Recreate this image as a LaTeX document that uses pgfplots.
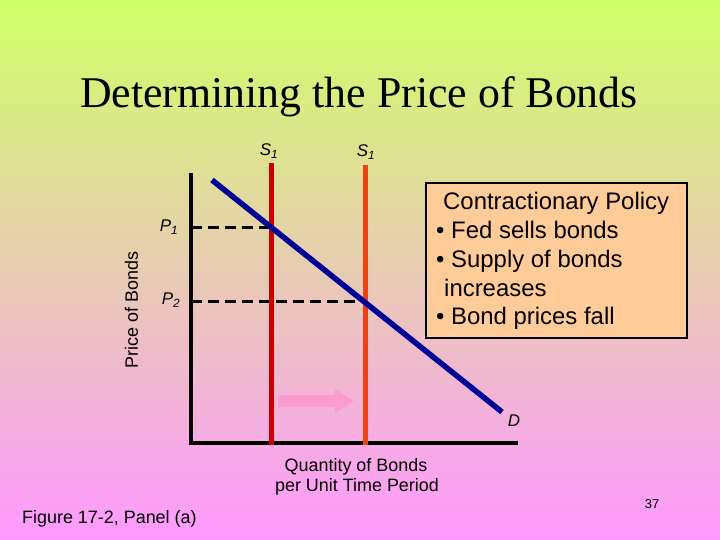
\documentclass[border=0pt]{standalone}
\usepackage{pgfplots}
\pgfplotsset{compat=1.18}
\usepackage{fontspec}
\setmainfont{Liberation Sans}
\newfontfamily\titlefont{Liberation Serif}
\usetikzlibrary{arrows.meta}
\definecolor{bgtop}{RGB}{208,255,102}
\definecolor{bgbot}{RGB}{255,153,255}
\definecolor{sone}{RGB}{200,0,0}
\definecolor{stwo}{RGB}{240,64,16}
\definecolor{dblue}{RGB}{0,0,150}
\definecolor{boxfill}{RGB}{255,204,153}
\definecolor{arrowpink}{RGB}{252,155,205}
\begin{document}
\begin{tikzpicture}[x=1bp,y=1bp]
\shade[top color=bgtop, bottom color=bgbot] (0,0) rectangle (720,540);
\begin{axis}[
  at={(191bp,97bp)}, anchor=south west,
  scale only axis, width=325bp, height=268bp,
  xmin=0, xmax=325, ymin=0, ymax=268,
  axis lines=left,
  axis line style={-, line width=4bp, black, line cap=rect},
  xtick=\empty, ytick=\empty,
  clip=false,
]
% dashed price lines
\addplot[black, line width=3bp, dash pattern=on 11bp off 6bp] coordinates {(0,215) (80,215)};
\addplot[black, line width=3bp, dash pattern=on 11bp off 6bp] coordinates {(0,141) (174,141)};
% supply curves
\addplot[sone, line width=5bp] coordinates {(80,-2) (80,280)};
\addplot[stwo, line width=5bp] coordinates {(174,-2) (174,278)};
% demand
\addplot[dblue, line width=5.5bp] coordinates {(21,263) (311,31)};
% shift arrow
\addplot[arrowpink, line width=12bp, -{Triangle[length=19bp,width=22bp]}] coordinates {(87,42) (163,42)};
% box
\draw[line width=2.7bp, fill=boxfill] (235,260) rectangle (496,105);
\node[anchor=base west, inner sep=0pt, font=\fontsize{24}{28}\selectfont] at (252,233) {Contractionary Policy};
\node[anchor=base west, inner sep=0pt, font=\fontsize{24}{28}\selectfont] at (245,204) {• Fed sells bonds};
\node[anchor=base west, inner sep=0pt, font=\fontsize{24}{28}\selectfont] at (245,175) {• Supply of bonds};
\node[anchor=base west, inner sep=0pt, font=\fontsize{24}{28}\selectfont] at (253,146) {increases};
\node[anchor=base west, inner sep=0pt, font=\fontsize{24}{28}\selectfont] at (245,118) {• Bond prices fall};
% labels
\node[anchor=base, inner sep=0pt, font=\fontsize{17}{20}\selectfont\itshape] at (78,287) {S\textsubscript{1}};
\node[anchor=base, inner sep=0pt, font=\fontsize{17}{20}\selectfont\itshape] at (175,286) {S\textsubscript{1}};
\node[anchor=base, inner sep=0pt, font=\fontsize{17}{20}\selectfont\itshape] at (-22,211) {P\textsubscript{1}};
\node[anchor=base, inner sep=0pt, font=\fontsize{17}{20}\selectfont\itshape] at (-20,138) {P\textsubscript{2}};
\node[anchor=base, inner sep=0pt, font=\fontsize{17}{20}\selectfont\itshape] at (323,16) {D};
\node[rotate=90, inner sep=0pt, font=\fontsize{18}{21}\selectfont] at (-59.5,133) {Price of Bonds};
\node[anchor=base, inner sep=0pt, font=\fontsize{18}{21}\selectfont] at (165,-29) {Quantity of Bonds};
\node[anchor=base, inner sep=0pt, font=\fontsize{18}{21}\selectfont] at (166,-49) {per Unit Time Period};
\node[anchor=base west, inner sep=0pt, font=\fontsize{18}{21}\selectfont] at (-169,-81) {Figure 17-2, Panel (a)};
\node[inner sep=0pt, font=\fontsize{13}{15}\selectfont] at (461,-61) {37};
\node[anchor=base, inner sep=0pt, font=\fontsize{44}{50}\selectfont\titlefont] at (168,335) {Determining the Price of Bonds};
\end{axis}
\end{tikzpicture}
\end{document}
